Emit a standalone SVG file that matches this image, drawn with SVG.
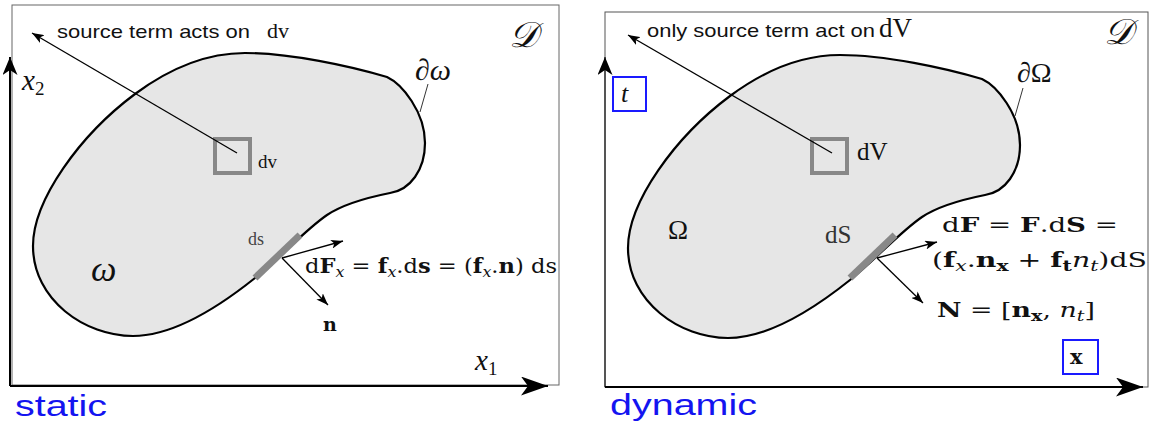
<svg xmlns="http://www.w3.org/2000/svg" width="1150" height="428" viewBox="0 0 1150 428">
<style>
.frame{fill:none;stroke:#666;stroke-width:1}
.axis{fill:none;stroke:#000;stroke-width:2}
.blob{fill:#e6e6e6;stroke:#000;stroke-width:2.2}
.elem{fill:none;stroke:#888;stroke-width:4}
.seg{fill:none;stroke:#888;stroke-width:7}
.vec{fill:none;stroke:#000;stroke-width:1.3}
.lead{fill:none;stroke:#000;stroke-width:0.8}
.sans{font-family:"Liberation Sans",Arial,sans-serif;fill:#111}
.serif{font-family:"Liberation Serif","DejaVu Serif",serif;fill:#111}
.m{font-family:"DejaVu Serif","Liberation Serif",serif;fill:#111}
.it{font-style:italic}
.b{font-weight:bold}
.blue{font-family:"Liberation Sans",Arial,sans-serif;fill:#1414f0;font-size:30px}
.box{fill:none;stroke:#1a1aff;stroke-width:2}
</style>
<defs>
<marker id="ah" markerUnits="userSpaceOnUse" viewBox="0 0 12 9" markerWidth="12" markerHeight="9" refX="12" refY="4.5" orient="auto"><path d="M0,0 L12,4.5 L0,9 L3,4.5 Z" fill="#000"/></marker>
<marker id="axH" markerUnits="userSpaceOnUse" viewBox="0 0 27 19" markerWidth="27" markerHeight="19" refX="27" refY="9.5" orient="auto"><path d="M0,0 L27,9.5 L0,19 L7,9.5 Z" fill="#000"/></marker>
<marker id="axV" markerUnits="userSpaceOnUse" viewBox="0 0 18 15" markerWidth="18" markerHeight="15" refX="18" refY="7.5" orient="auto"><path d="M0,0 L18,7.5 L0,15 L5,7.5 Z" fill="#000"/></marker>
<path id="blobShape" d="M245,53 C290,53 350,66 387,77 C402,84 425,112 425,143 C425,170 410,190 390,193 C370,197 345,203 327,215 C305,230 280,258 255,278 C220,306 175,336 133,336 C85,336 33,300 33,246 C33,200 80,135 135,94 C170,68 205,53 245,53 Z"/>
</defs>

<!-- STATIC PANEL -->
<g id="static-frame">
<rect class="frame" x="12" y="5" width="547" height="380"/>
</g>
<g id="static-region">
<use href="#blobShape" class="blob"/>
</g>
<g id="static-dv">
<rect class="elem" x="215" y="139" width="35" height="34"/>
<text class="serif" x="258" y="168" font-size="19">dv</text>
</g>
<g id="static-ds">
<line class="seg" x1="255" y1="278" x2="300" y2="235"/>
<text class="serif" x="248" y="245" font-size="18" style="fill:#444">ds</text>
</g>
<g id="static-labels">
<text class="serif it" x="22" y="90" font-size="29">x<tspan dy="5" font-size="19" font-style="normal">2</tspan></text>
<text class="serif it" x="475" y="370" font-size="29">x<tspan dy="5" font-size="19" font-style="normal">1</tspan></text>
<text class="serif it" x="509" y="47" font-size="36">𝒟</text>
<text class="serif" x="415" y="80" font-size="30">∂<tspan class="it">ω</tspan></text>
<text class="serif it" x="91" y="281" font-size="36">ω</text>
<text class="sans" x="57" y="38" font-size="19" textLength="193" lengthAdjust="spacingAndGlyphs">source term acts on</text>
<text class="serif" x="267" y="38" font-size="22">dv</text>
<text class="m" x="305" y="273" font-size="20" textLength="252" lengthAdjust="spacingAndGlyphs">d<tspan class="b">F</tspan><tspan class="it" dy="4" font-size="14">x</tspan><tspan dy="-4"> = </tspan><tspan class="b">f</tspan><tspan class="it" dy="4" font-size="14">x</tspan><tspan dy="-4">.d</tspan><tspan class="b">s</tspan> = (<tspan class="b">f</tspan><tspan class="it" dy="4" font-size="14">x</tspan><tspan dy="-4">.</tspan><tspan class="b">n</tspan>) ds</text>
<text class="m b" x="323" y="331" font-size="19">n</text>
<text class="blue" x="15" y="416" textLength="92" lengthAdjust="spacingAndGlyphs">static</text>
</g>

<!-- DYNAMIC PANEL -->
<g id="dynamic-frame">
<rect class="frame" x="605" y="12" width="543" height="375" style="stroke:#555"/>
</g>
<g id="dynamic-region">
<use href="#blobShape" class="blob" transform="translate(595,2)"/>
</g>
<g id="dynamic-dV">
<rect class="elem" x="812" y="139" width="35" height="34"/>
<text class="serif" x="857" y="160" font-size="25">dV</text>
</g>
<g id="dynamic-dS">
<line class="seg" x1="850" y1="278" x2="895" y2="235"/>
<text class="serif" x="825" y="243" font-size="25" style="fill:#333">dS</text>
</g>
<g id="dynamic-labels">
<rect class="box" x="613" y="77" width="33" height="34"/>
<text class="serif it" x="621" y="102" font-size="26">t</text>
<rect class="box" x="1063" y="340" width="35" height="34"/>
<text class="m b" x="1070" y="364" font-size="21">x</text>
<text class="serif it" x="1104" y="44" font-size="36">𝒟</text>
<text class="serif" x="1017" y="82" font-size="28">∂Ω</text>
<text class="serif" x="668" y="239" font-size="27">Ω</text>
<text class="sans" x="647" y="37" font-size="19" textLength="228" lengthAdjust="spacingAndGlyphs">only source term act on</text>
<text class="serif" x="879" y="37" font-size="27">dV</text>
<text class="m" x="942" y="232" font-size="21" textLength="176" lengthAdjust="spacingAndGlyphs">d<tspan class="b">F</tspan> = <tspan class="b">F</tspan>.d<tspan class="b">S</tspan> =</text>
<text class="m" x="932" y="267" font-size="21" textLength="215" lengthAdjust="spacingAndGlyphs">(<tspan class="b">f</tspan><tspan class="it" dy="4" font-size="15">x</tspan><tspan dy="-4">.</tspan><tspan class="b">n</tspan><tspan class="b" dy="4" font-size="15">x</tspan><tspan dy="-4"> + </tspan><tspan class="b">f</tspan><tspan class="b" dy="4" font-size="15">t</tspan><tspan class="it" dy="-4">n</tspan><tspan class="it" dy="4" font-size="15">t</tspan><tspan dy="-4">)dS</tspan></text>
<text class="m" x="937" y="317" font-size="21" textLength="158" lengthAdjust="spacingAndGlyphs"><tspan class="b">N</tspan> = [<tspan class="b">n</tspan><tspan class="b" dy="4" font-size="15">x</tspan><tspan dy="-4">, </tspan><tspan class="it">n</tspan><tspan class="it" dy="4" font-size="15">t</tspan><tspan dy="-4">]</tspan></text>
<text class="blue" x="610" y="415" textLength="147" lengthAdjust="spacingAndGlyphs">dynamic</text>
</g>

<!-- CONNECTORS -->
<g id="connectors">
<line class="axis" x1="10" y1="386" x2="10" y2="57" marker-end="url(#axV)"/>
<line class="axis" x1="10" y1="386" x2="548" y2="386" marker-end="url(#axH)"/>
<line class="vec" x1="237" y1="153" x2="32" y2="33" marker-end="url(#ah)"/>
<line class="vec" x1="282" y1="258" x2="343" y2="241" marker-end="url(#ah)"/>
<line class="vec" x1="282" y1="258" x2="328" y2="305" marker-end="url(#ah)"/>
<line class="lead" x1="428" y1="84" x2="420" y2="112"/>

<line class="axis" x1="605" y1="387" x2="605" y2="57" style="stroke:#555" marker-end="url(#axV)"/>
<line class="axis" x1="605" y1="387" x2="1143" y2="387" marker-end="url(#axH)"/>
<line class="vec" x1="832" y1="153" x2="628" y2="35" marker-end="url(#ah)"/>
<line class="vec" x1="877" y1="258" x2="937" y2="242" marker-end="url(#ah)"/>
<line class="vec" x1="877" y1="258" x2="923" y2="303" marker-end="url(#ah)"/>
<line class="lead" x1="1023" y1="88" x2="1015" y2="116"/>
</g>
</svg>
